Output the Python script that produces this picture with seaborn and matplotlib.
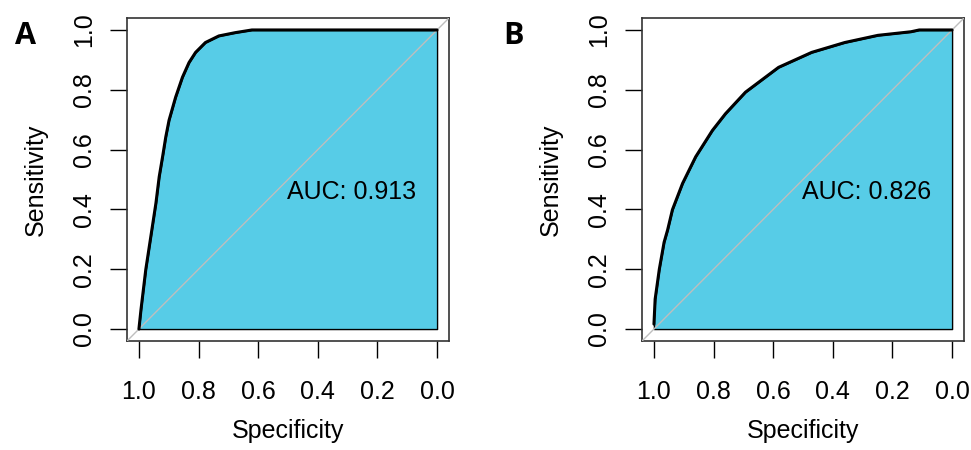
import matplotlib
matplotlib.use("Agg")
import matplotlib.pyplot as plt
import seaborn as sns
import pandas as pd

sns.set_style("white")
plt.rcParams['font.family'] = ['Liberation Sans', 'DejaVu Sans']
plt.rcParams['text.color'] = 'black'
plt.rcParams['axes.labelcolor'] = 'black'
plt.rcParams['xtick.color'] = 'black'
plt.rcParams['ytick.color'] = 'black'

# ROC curve A (specificity, sensitivity)
spec_a = [1.0, 0.999, 0.993, 0.977, 0.96, 0.943, 0.932, 0.92, 0.91, 0.899,
          0.877, 0.854, 0.832, 0.81, 0.777, 0.732, 0.677, 0.621, 0.0]
sens_a = [0.0, 0.01, 0.066, 0.199, 0.31, 0.421, 0.509, 0.58, 0.642, 0.698,
          0.775, 0.842, 0.891, 0.925, 0.958, 0.98, 0.991, 1.0, 1.0]

# ROC curve B
spec_b = [1.0, 1.0, 0.996, 0.982, 0.966, 0.954, 0.938, 0.904, 0.86, 0.804,
          0.76, 0.693, 0.582, 0.471, 0.36, 0.249, 0.138, 0.11, 0.0]
sens_b = [0.0, 0.033, 0.1, 0.2, 0.29, 0.332, 0.399, 0.487, 0.576, 0.664,
          0.72, 0.792, 0.875, 0.925, 0.958, 0.982, 0.994, 1.0, 1.0]

auc_labels = ["AUC: 0.913", "AUC: 0.826"]
panel_labels = ["A", "B"]
ticks = [1.0, 0.8, 0.6, 0.4, 0.2, 0.0]

fill_color = "#57CCE7"

fig = plt.figure(figsize=(9.71, 4.5), dpi=100)
ax_a = fig.add_axes([0.1308, 0.2422, 0.3316, 0.7178])
ax_b = fig.add_axes([0.6612, 0.2422, 0.3316, 0.7178])

curves = [(spec_a, sens_a), (spec_b, sens_b)]
for ax, (sp, se), auc in zip([ax_a, ax_b], curves, auc_labels):
    df = pd.DataFrame({"Specificity": sp, "Sensitivity": se})
    ax.set_xlim(1.04, -0.04)
    ax.set_ylim(-0.04, 1.04)
    # chance diagonal
    ax.plot([1.04, -0.04], [-0.04, 1.04], color="#BEBEBE", lw=1, zorder=3)
    ax.fill_between(df["Specificity"], df["Sensitivity"], 0, color=fill_color,
                    edgecolor="black", lw=1, zorder=1)
    sns.lineplot(data=df, x="Specificity", y="Sensitivity", sort=False,
                 color="black", lw=2.2, ax=ax, zorder=4)
    ax.text(0.287, 0.459, auc, fontsize=18, ha="center", va="center", zorder=5)

    ax.set_xticks(ticks)
    ax.set_yticks(ticks)
    ax.set_xticklabels([f"{t:.1f}" for t in ticks], fontsize=18)
    ax.set_yticklabels([f"{t:.1f}" for t in ticks], fontsize=18,
                       rotation=90, va="center")
    ax.tick_params(axis="both", direction="out", length=12, width=1,
                   color="black", left=True, bottom=True)
    ax.tick_params(axis="x", pad=16)
    ax.tick_params(axis="y", pad=10)
    ax.set_xlabel("Specificity", fontsize=18, labelpad=11)
    ax.set_ylabel("Sensitivity", fontsize=18, labelpad=18)
    for s in ax.spines.values():
        s.set_color("#333333")
        s.set_linewidth(1.2)
    ax.set_facecolor("white")

fig.text(25 / 971, 1 - 36 / 450, panel_labels[0], fontsize=22, fontweight="bold",
         family=["Open Sans", "DejaVu Sans"], ha="center", va="center")
fig.text(514 / 971, 1 - 36 / 450, panel_labels[1], fontsize=22, fontweight="bold",
         family=["Open Sans", "DejaVu Sans"], ha="center", va="center")

fig.savefig("out.png", dpi=100)
